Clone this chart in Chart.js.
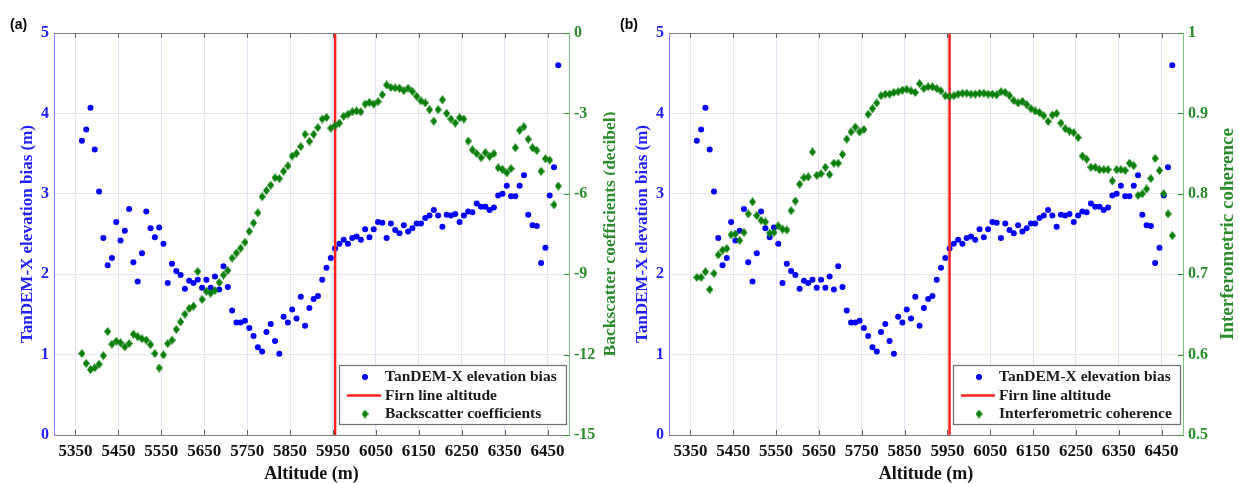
<!DOCTYPE html>
<html>
<head>
<meta charset="utf-8">
<script src="https://cdn.jsdelivr.net/npm/chart.js@4.4.1/dist/chart.umd.min.js"></script>
<style>
  html, body { margin: 0; padding: 0; background: #fff; }
  #wrap { position: relative; width: 1239px; height: 483px; }
  .panel { position: absolute; top: 0; height: 483px; }
  #pa { left: 0; width: 615px; }
  #pb { left: 615px; width: 624px; }
</style>
</head>
<body>
<div id="wrap">
  <div class="panel" id="pa"><canvas id="chartA"></canvas></div>
  <div class="panel" id="pb"><canvas id="chartB"></canvas></div>
</div>
<script>
// altitude of each sample (m)
const altitudes = [
  5365, 5375, 5385, 5395, 5405, 5415, 5425, 5435, 5445, 5455,
  5465, 5475, 5485, 5495, 5505, 5515, 5525, 5535, 5545, 5555,
  5565, 5575, 5585, 5595, 5605, 5615, 5625, 5635, 5645, 5655,
  5665, 5675, 5685, 5695, 5705, 5715, 5725, 5735, 5745, 5755,
  5765, 5775, 5785, 5795, 5805, 5815, 5825, 5835, 5845, 5855,
  5865, 5875, 5885, 5895, 5905, 5915, 5925, 5935, 5945, 5955,
  5965, 5975, 5985, 5995, 6005, 6015, 6025, 6035, 6045, 6055,
  6065, 6075, 6085, 6095, 6105, 6115, 6125, 6135, 6145, 6155,
  6165, 6175, 6185, 6195, 6205, 6215, 6225, 6235, 6245, 6255,
  6265, 6275, 6285, 6295, 6305, 6315, 6325, 6335, 6345, 6355,
  6365, 6375, 6385, 6395, 6405, 6415, 6425, 6435, 6445, 6455,
  6465, 6475
];

// TanDEM-X elevation bias (m)
const elevationBias = [
  3.66, 3.80, 4.07, 3.55, 3.03, 2.45, 2.11, 2.20, 2.65, 2.42,
  2.54, 2.81, 2.15, 1.91, 2.26, 2.78, 2.57, 2.46, 2.58, 2.38,
  1.89, 2.13, 2.04, 1.99, 1.82, 1.92, 1.89, 1.93, 1.83, 1.93,
  1.83, 1.97, 1.81, 2.10, 1.84, 1.55, 1.40, 1.40, 1.42, 1.33,
  1.23, 1.09, 1.04, 1.28, 1.38, 1.17, 1.01, 1.47, 1.40, 1.56,
  1.45, 1.72, 1.36, 1.58, 1.69, 1.73, 1.93, 2.08, 2.20, 2.32,
  2.38, 2.43, 2.38, 2.45, 2.47, 2.43, 2.56, 2.46, 2.56, 2.65,
  2.64, 2.45, 2.63, 2.55, 2.51, 2.61, 2.53, 2.57, 2.63, 2.63,
  2.70, 2.73, 2.80, 2.73, 2.59, 2.74, 2.73, 2.75, 2.65, 2.73,
  2.78, 2.77, 2.88, 2.84, 2.84, 2.80, 2.83, 2.98, 3.00, 3.10,
  2.97, 2.97, 3.10, 3.23, 2.74, 2.61, 2.60, 2.14, 2.33, 2.98,
  3.33, 4.60
];

// backscatter coefficients (dB), panel (a)
const backscatter = [
  -11.96, -12.33, -12.56, -12.49, -12.36, -12.04, -11.14, -11.61, -11.50, -11.56,
  -11.71, -11.59, -11.24, -11.33, -11.41, -11.46, -11.63, -11.96, -12.50, -12.01,
  -11.59, -11.46, -11.06, -10.78, -10.49, -10.28, -10.19, -8.90, -9.94, -9.64,
  -9.71, -9.61, -9.31, -9.03, -8.86, -8.40, -8.21, -8.03, -7.81, -7.40,
  -7.09, -6.71, -6.11, -5.88, -5.68, -5.40, -5.43, -5.16, -4.96, -4.59,
  -4.49, -4.24, -3.78, -4.04, -3.78, -3.53, -3.21, -3.15, -3.55, -3.46,
  -3.36, -3.11, -3.03, -2.94, -2.91, -2.94, -2.65, -2.59, -2.65, -2.56,
  -2.30, -1.94, -2.03, -2.05, -2.06, -2.15, -2.06, -2.18, -2.36, -2.53,
  -2.61, -2.86, -3.29, -2.86, -2.49, -3.00, -3.21, -3.36, -3.16, -3.21,
  -4.03, -4.36, -4.50, -4.65, -4.46, -4.61, -4.50, -5.03, -5.09, -5.21,
  -5.06, -4.28, -3.63, -3.50, -3.96, -4.28, -4.38, -5.16, -4.69, -4.74,
  -6.41, -5.71
];

// interferometric coherence, panel (b)
const coherence = [
  0.696, 0.696, 0.703, 0.681, 0.701, 0.724, 0.730, 0.732, 0.749, 0.750,
  0.742, 0.752, 0.775, 0.790, 0.773, 0.767, 0.765, 0.751, 0.752, 0.760,
  0.756, 0.755, 0.779, 0.791, 0.812, 0.820, 0.821, 0.852, 0.823, 0.825,
  0.833, 0.824, 0.838, 0.838, 0.849, 0.868, 0.877, 0.883, 0.877, 0.880,
  0.899, 0.906, 0.913, 0.922, 0.924, 0.924, 0.926, 0.927, 0.929, 0.930,
  0.928, 0.926, 0.937, 0.931, 0.933, 0.933, 0.931, 0.928, 0.922, 0.921,
  0.922, 0.924, 0.925, 0.925, 0.924, 0.924, 0.925, 0.925, 0.924, 0.924,
  0.923, 0.927, 0.926, 0.922, 0.916, 0.913, 0.915, 0.911, 0.906, 0.903,
  0.901, 0.897, 0.890, 0.898, 0.900, 0.888, 0.881, 0.878, 0.876, 0.870,
  0.847, 0.843, 0.833, 0.833, 0.830, 0.830, 0.830, 0.816, 0.830, 0.830,
  0.829, 0.838, 0.835, 0.798, 0.800, 0.806, 0.819, 0.844, 0.829, 0.800,
  0.775, 0.748
];

const xTicks = [5350, 5450, 5550, 5650, 5750, 5850, 5950, 6050, 6150, 6250, 6350, 6450];
const firnLineAltitude = 5955;

const SERIF = "'Liberation Serif', 'Times New Roman', serif";
const BLUE = '#0000ff';
const BLUE_TXT = '#2020ff';
const GREEN = '#0a800a';
const GREEN_TXT = '#2a8c2a';
const RED = '#ff2020';
const GRID = '#e2e2f2';

// diamond marker, a bit taller than wide like the original
function diamond() {
  const c = document.createElement('canvas');
  c.width = 7; c.height = 9;
  const g = c.getContext('2d');
  g.fillStyle = GREEN;
  g.beginPath();
  g.moveTo(3.5, 0); g.lineTo(7, 4.5); g.lineTo(3.5, 9); g.lineTo(0, 4.5);
  g.closePath();
  g.fill();
  return c;
}
const diamondMarker = diamond();

const framePlugin = {
  id: 'frame',
  afterDraw(chart, args, o) {
    const { ctx, chartArea: a, scales } = chart;
    ctx.save();

    // top border + inward ticks
    ctx.strokeStyle = '#808080';
    ctx.lineWidth = 1;
    ctx.beginPath();
    ctx.moveTo(a.left, a.top + 0.5); ctx.lineTo(a.right, a.top + 0.5);
    ctx.stroke();
    ctx.strokeStyle = '#606060';
    ctx.beginPath();
    for (const v of xTicks) {
      const px = Math.round(scales.x.getPixelForValue(v)) + 0.5;
      ctx.moveTo(px, a.top); ctx.lineTo(px, a.top + 5);
      ctx.moveTo(px, a.bottom); ctx.lineTo(px, a.bottom - 5);
    }
    ctx.stroke();
    ctx.strokeStyle = GREEN_TXT;
    ctx.beginPath();
    for (const t of scales.y2.ticks) {
      const py = Math.round(scales.y2.getPixelForValue(t.value)) + 0.5;
      ctx.moveTo(a.right, py); ctx.lineTo(a.right - 5, py);
    }
    ctx.stroke();

    // legend box
    const bx = a.right - 230, bw = 227, by = a.bottom - 70, bh = 59;
    ctx.fillStyle = '#fff';
    ctx.fillRect(bx, by, bw, bh);
    ctx.strokeStyle = '#707070';
    ctx.lineWidth = 1.2;
    ctx.strokeRect(bx + 0.5, by + 0.5, bw, bh);
    const rows = [a.bottom - 58, a.bottom - 39.5, a.bottom - 21];
    const sx = bx + 26;
    ctx.fillStyle = BLUE;
    ctx.beginPath(); ctx.arc(sx, rows[0], 3, 0, Math.PI * 2); ctx.fill();
    ctx.strokeStyle = RED; ctx.lineWidth = 2.5;
    ctx.beginPath(); ctx.moveTo(bx + 8, rows[1]); ctx.lineTo(bx + 42, rows[1]); ctx.stroke();
    ctx.drawImage(diamondMarker, sx - 3.5, rows[2] - 4.5);
    ctx.fillStyle = '#1a1a1a';
    ctx.font = `bold 15.5px ${SERIF}`;
    ctx.textBaseline = 'middle';
    ctx.textAlign = 'left';
    const labels = chart.data.datasets.map(d => d.label);
    labels.forEach((t, i) => ctx.fillText(t, bx + 46, rows[i]));

    // right axis title, reading bottom to top
    ctx.save();
    ctx.translate(a.right + o.rightTitleOffset, (a.top + a.bottom) / 2);
    ctx.rotate(-Math.PI / 2);
    ctx.fillStyle = GREEN_TXT;
    ctx.font = `bold ${o.rightTitleSize}px ${SERIF}`;
    ctx.textAlign = 'center';
    ctx.textBaseline = 'middle';
    ctx.fillText(o.rightTitle, 0, 0);
    ctx.restore();

    // panel tag
    ctx.fillStyle = '#000';
    ctx.font = "bold 14px 'Liberation Sans', Arial, sans-serif";
    ctx.textAlign = 'left';
    ctx.textBaseline = 'middle';
    ctx.fillText(o.tag, o.tagX, 25);

    ctx.restore();
  }
};

function makeChart(id, cfg) {
  const pts = ys => altitudes.map((x, i) => ({ x: x, y: ys[i] }));
  return new Chart(document.getElementById(id), {
    type: 'scatter',
    data: {
      datasets: [
        {
          label: 'TanDEM-X elevation bias',
          data: pts(elevationBias),
          yAxisID: 'y',
          pointStyle: 'circle',
          pointRadius: 3,
          borderWidth: 0,
          backgroundColor: BLUE,
          order: 2
        },
        {
          label: 'Firn line altitude',
          data: [{ x: firnLineAltitude, y: 0 }, { x: firnLineAltitude, y: 5 }],
          yAxisID: 'y',
          showLine: true,
          borderColor: RED,
          borderWidth: 2.5,
          pointRadius: 0,
          order: 1
        },
        {
          label: cfg.label,
          data: pts(cfg.values),
          yAxisID: 'y2',
          pointStyle: diamondMarker,
          pointRadius: 4,
          backgroundColor: GREEN,
          order: 0
        }
      ]
    },
    options: {
      responsive: true,
      maintainAspectRatio: false,
      animation: false,
      events: [],
      layout: { padding: { top: 33, left: 0, right: 0, bottom: 0 } },
      plugins: {
        legend: { display: false },
        tooltip: { enabled: false },
        frame: {
          tag: cfg.tag, tagX: cfg.tagX,
          rightTitle: cfg.rightTitle, rightTitleSize: cfg.rightTitleSize,
          rightTitleOffset: cfg.rightTitleOffset
        }
      },
      scales: {
        x: {
          type: 'linear',
          min: 5300,
          max: 6500,
          afterBuildTicks: s => { s.ticks = xTicks.map(v => ({ value: v })); },
          afterFit: s => { s.height = 48; },
          ticks: {
            color: '#111',
            autoSkip: false,
            maxRotation: 0,
            padding: 6,
            font: { family: SERIF, size: 17, weight: 'bold' },
            callback: v => String(v)
          },
          grid: { color: GRID, drawTicks: false },
          border: { color: '#808080' },
          title: {
            display: true,
            text: 'Altitude (m)',
            color: '#111',
            font: { family: SERIF, size: 18, weight: 'bold', lineHeight: 1 },
            padding: { top: 0, bottom: 0 }
          }
        },
        y: {
          position: 'left',
          min: 0,
          max: 5,
          afterFit: s => { s.width = 54; },
          ticks: {
            stepSize: 1,
            color: BLUE_TXT,
            padding: 5,
            font: { family: SERIF, size: 16, weight: 'bold' }
          },
          grid: { color: GRID, drawTicks: false },
          border: { color: '#7a7aff' },
          title: {
            display: true,
            text: 'TanDEM-X elevation bias (m)',
            color: BLUE_TXT,
            font: { family: SERIF, size: 17, weight: 'bold' },
            padding: { top: 17, bottom: 0 }
          }
        },
        y2: {
          position: 'right',
          min: cfg.min,
          max: cfg.max,
          afterFit: s => { s.width = cfg.rightWidth; },
          ticks: {
            stepSize: cfg.step,
            color: GREEN_TXT,
            padding: 5,
            font: { family: SERIF, size: 16, weight: 'bold' },
            callback: v => String(Math.round(v * 10) / 10)
          },
          grid: { drawOnChartArea: false, drawTicks: false },
          border: { color: '#80c080' }
        }
      }
    },
    plugins: [framePlugin]
  });
}

makeChart('chartA', {
  label: 'Backscatter coefficients',
  values: backscatter,
  min: -15, max: 0, step: 3,
  rightWidth: 46,
  rightTitle: 'Backscatter coefficients (decibel)',
  rightTitleSize: 17.5,
  rightTitleOffset: 41,
  tag: '(a)', tagX: 10
});

makeChart('chartB', {
  label: 'Interferometric coherence',
  values: coherence,
  min: 0.5, max: 1, step: 0.1,
  rightWidth: 56,
  rightTitle: 'Interferometric coherence',
  rightTitleSize: 19,
  rightTitleOffset: 45,
  tag: '(b)', tagX: 5
});
</script>
</body>
</html>
